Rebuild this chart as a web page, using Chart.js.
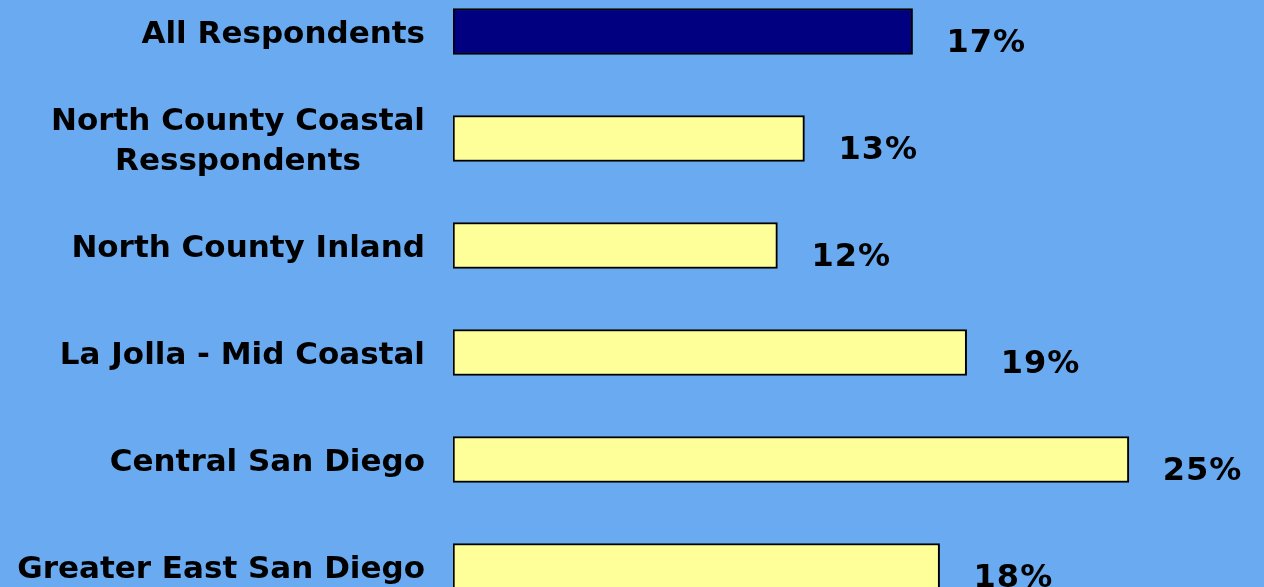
<!DOCTYPE html>
<html>
<head>
<meta charset="utf-8">
<script src="https://cdn.jsdelivr.net/npm/chart.js@4.4.0/dist/chart.umd.min.js"></script>
<style>
  html, body { margin: 0; padding: 0; background: #6aaaf0; overflow: hidden; }
  .wrap { position: relative; width: 1264px; height: 587px; overflow: hidden; }
  .inner { position: absolute; left: 0; top: -22px; width: 1264px; height: 642px; }
</style>
</head>
<body>
<div class="wrap">
  <div class="inner"><canvas id="chart"></canvas></div>
</div>
<script>
const categories = [
  "All Respondents",
  ["North County Coastal", "Resspondents"],
  "North County Inland",
  "La Jolla - Mid Coastal",
  "Central San Diego",
  "Greater East San Diego"
];
const values = [17, 13, 12, 19, 25, 18];
const barColors = ["#000080", "#ffff99", "#ffff99", "#ffff99", "#ffff99", "#ffff99"];

const FONT = "bold 31px 'DejaVu Sans', Verdana, sans-serif";
const VALUE_FONT = "bold 32px 'DejaVu Sans', Verdana, sans-serif";

// draws the category names (multi-line ones centred on each other) and the value labels
const labelPlugin = {
  id: "labels",
  afterDatasetsDraw(chart) {
    const ctx = chart.ctx;
    const yScale = chart.scales.y;
    const meta = chart.getDatasetMeta(0);
    ctx.save();
    ctx.font = FONT;
    ctx.fillStyle = "#000";
    ctx.textBaseline = "middle";
    ctx.textAlign = "center";
    const right = yScale.right - 28;
    categories.forEach((cat, i) => {
      const lines = Array.isArray(cat) ? cat : [cat];
      const w = Math.max(...lines.map(l => ctx.measureText(l).width));
      const cx = right - w / 2;
      const cy = yScale.getPixelForValue(i) + 3;
      const lh = 40;
      lines.forEach((l, j) => {
        ctx.fillText(l, cx, cy + (j - (lines.length - 1) / 2) * lh);
      });
    });
    ctx.textAlign = "left";
    ctx.font = VALUE_FONT;
    ctx.letterSpacing = "1px";
    meta.data.forEach((bar, i) => {
      ctx.fillText(values[i] + "%", bar.x + 34, bar.y + 12);
    });
    ctx.restore();
  }
};

new Chart(document.getElementById("chart"), {
  type: "bar",
  data: {
    labels: categories,
    datasets: [{
      data: values,
      backgroundColor: barColors,
      borderColor: "#000",
      borderWidth: 2,
      borderSkipped: false,
      barThickness: 46
    }]
  },
  options: {
    indexAxis: "y",
    responsive: true,
    maintainAspectRatio: false,
    animation: false,
    layout: { padding: 0 },
    plugins: { legend: { display: false }, tooltip: { enabled: false } },
    scales: {
      x: { display: false, min: 0, max: 30 },
      y: {
        grid: { display: false },
        border: { display: false },
        ticks: { display: false },
        afterFit(scale) { scale.width = 453; }
      }
    }
  },
  plugins: [labelPlugin]
});
</script>
</body>
</html>
